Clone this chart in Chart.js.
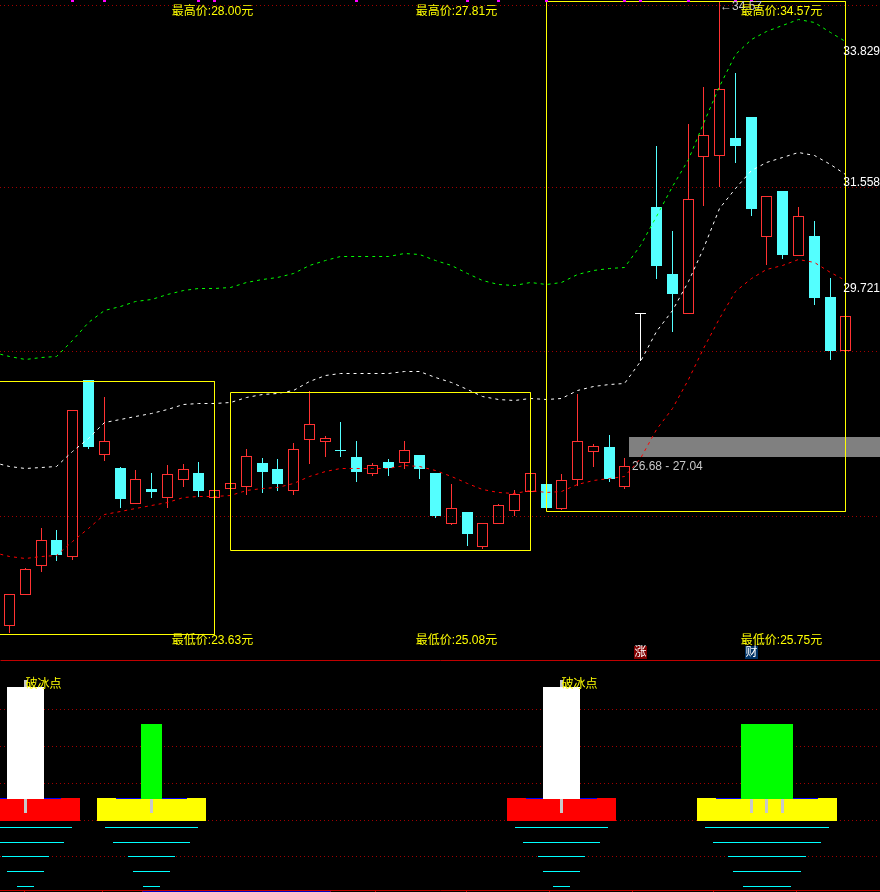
<!DOCTYPE html>
<html>
<head>
<meta charset="utf-8">
<title>K线</title>
<script src="https://cdn.jsdelivr.net/npm/chart.js@4/dist/chart.umd.js"></script>
<style>
html, body { margin: 0; padding: 0; background: #000; overflow: hidden; }
canvas { position: absolute; left: 0; display: block; }
#chart1 { top: 0; }
#chart2 { top: 660px; }
</style>
</head>
<body>
<canvas id="chart1" width="880" height="660"></canvas>
<canvas id="chart2" width="880" height="232"></canvas>
<script>
// candles, one entry per day
var opens = [23.74, 24.27, 24.78, 25.23, 24.93, 28.00, 26.70, 26.48, 25.85, 26.11, 25.96, 26.27, 26.39, 25.96, 26.11, 26.15, 26.57, 26.46, 26.08, 26.97, 26.93, 26.79, 26.67, 26.37, 26.58, 26.57, 26.70, 26.39, 25.51, 25.71, 25.11, 25.51, 25.73, 26.06, 26.20, 25.77, 26.27, 26.76, 26.84, 26.15, 29.15, 31.01, 29.85, 29.15, 31.88, 31.90, 32.21, 32.57, 30.49, 31.29, 30.16, 30.51, 29.45, 28.51];
var closes = [24.29, 24.72, 25.23, 24.97, 27.49, 26.84, 26.95, 25.94, 26.29, 26.06, 26.37, 26.46, 26.08, 26.10, 26.22, 26.69, 26.41, 26.20, 26.81, 27.24, 27.00, 26.77, 26.41, 26.53, 26.48, 26.79, 26.46, 25.65, 25.78, 25.33, 25.52, 25.84, 26.03, 26.39, 25.78, 26.27, 26.95, 26.86, 26.29, 26.51, 29.17, 29.99, 29.50, 31.15, 32.26, 33.06, 32.07, 30.98, 31.20, 30.18, 30.85, 29.43, 28.51, 29.12];
var highs = [24.29, 24.74, 25.44, 25.40, 27.49, 28.00, 27.71, 26.50, 26.44, 26.39, 26.53, 26.55, 26.58, 26.10, 26.22, 26.81, 26.65, 26.63, 26.91, 27.81, 27.03, 27.28, 26.95, 26.57, 26.63, 26.95, 26.70, 26.39, 26.20, 25.71, 25.52, 25.85, 26.10, 26.39, 26.20, 26.37, 27.76, 26.90, 27.05, 26.65, 29.17, 32.07, 30.59, 32.45, 33.09, 34.57, 33.34, 32.57, 31.20, 31.29, 31.01, 30.77, 29.78, 29.12];
var lows = [23.61, 24.27, 24.67, 24.86, 24.88, 26.81, 26.60, 25.78, 25.85, 25.96, 25.78, 26.15, 25.98, 25.95, 26.11, 26.01, 26.05, 26.08, 26.01, 26.55, 26.67, 26.67, 26.24, 26.34, 26.34, 26.46, 26.29, 25.61, 25.49, 25.13, 25.08, 25.51, 25.65, 26.06, 25.78, 25.75, 26.17, 26.50, 26.24, 26.11, 28.34, 29.76, 28.84, 29.15, 31.03, 31.36, 31.77, 30.85, 30.00, 30.11, 30.16, 29.31, 28.35, 28.51];
var flatBars = [40];

// channel lines, first value sits one day before the first candle
var upperLine = [28.49, 28.41, 28.37, 28.39, 28.42, 28.70, 29.00, 29.22, 29.28, 29.37, 29.41, 29.49, 29.56, 29.59, 29.60, 29.62, 29.70, 29.75, 29.78, 29.85, 30.00, 30.09, 30.15, 30.15, 30.15, 30.15, 30.20, 30.18, 30.08, 29.99, 29.85, 29.74, 29.67, 29.65, 29.70, 29.67, 29.70, 29.83, 29.91, 29.95, 29.96, 30.35, 30.84, 31.36, 31.84, 32.46, 33.11, 33.65, 33.92, 34.05, 34.16, 34.27, 34.21, 34.04, 33.88];
var midLine = [26.57, 26.50, 26.47, 26.48, 26.51, 26.76, 27.00, 27.27, 27.32, 27.38, 27.43, 27.50, 27.58, 27.60, 27.60, 27.62, 27.71, 27.75, 27.77, 27.83, 27.98, 28.08, 28.12, 28.12, 28.12, 28.12, 28.15, 28.15, 28.05, 27.97, 27.85, 27.72, 27.67, 27.65, 27.69, 27.67, 27.69, 27.82, 27.89, 27.93, 27.95, 28.32, 28.85, 29.22, 29.71, 30.29, 30.99, 31.34, 31.65, 31.78, 31.87, 31.96, 31.90, 31.74, 31.58];
var lowerLine = [25.02, 24.95, 24.91, 24.95, 24.96, 25.20, 25.43, 25.68, 25.73, 25.78, 25.82, 25.88, 25.96, 25.98, 25.99, 26.01, 26.09, 26.13, 26.14, 26.21, 26.33, 26.42, 26.47, 26.47, 26.47, 26.47, 26.52, 26.50, 26.43, 26.33, 26.21, 26.11, 26.06, 26.03, 26.09, 26.06, 26.07, 26.20, 26.27, 26.30, 26.33, 26.65, 27.14, 27.52, 28.01, 28.56, 29.08, 29.54, 29.77, 29.92, 30.00, 30.10, 30.05, 29.88, 29.74];

var gridPrices = [34.52, 31.36, 28.51, 25.65];
var sideLabels = ['33.829', '31.558', '29.721'];
var sidePrices = [33.70, 31.43, 29.59];
var boxStarts = [-1, 14, 34];
var boxEnds = [13, 33, 53];
var boxHighs = [27.98, 27.79, 34.58];
var boxLows = [23.59, 25.05, 25.73];
var boxHighText = ['最高价:28.00元', '最高价:27.81元', '最高价:34.57元'];
var boxLowText = ['最低价:23.63元', '最低价:25.08元', '最低价:25.75元'];
var boxLabelDays = [12.86, 28.32, 48.89];
var zoneTop = 27.02;
var zoneBottom = 26.67;
var zoneStart = 39.26;
var zoneText = '26.68 - 27.04';
var markDays = [4, 6, 12, 13, 22, 29, 31, 34, 39, 40, 43, 46, 47];

// lower panel, in panel units
var signalDays = [1, 9, 35, 47, 48, 49];
var signalHeights = [203, 166, 203, 166, 166, 166];
var signalColors = ['#ffffff', '#00ff00', '#ffffff', '#00ff00', '#00ff00', '#00ff00'];
var baseColors = ['#ff0000', '#ffff00', '#ff0000', '#ffff00', '#ffff00', '#ffff00'];
var stickTops = [210, 166, 210, 166, 166, 166];
var panelGrid = [181, 144, 107, 70, 34];
var rippleLevels = [63, 48, 34, 19, 4];
var rippleWidths = [93, 77, 47, 37, 17];
var panelTicks = [0.92, 5.92, 8.4, 20.37, 23.16, 28.93, 34.19, 39.45, 44.64, 49.9];
var signalText = '破冰点';

var RED = '#ff3232';
var CYAN = '#54ffff';
var FONT = '12px "Liberation Sans", "Noto Sans CJK SC", sans-serif';
var xMin = -0.605;
var xMax = 55.162;

// keeps the bars on whole pixels like the original terminal drawing
class SnapScale extends Chart.LinearScale {
    static id = 'snap';
    getPixelForValue(v, i) {
        var p = super.getPixelForValue(v, i);
        return this.options.half ? Math.floor(p) + 0.5 : Math.round(p);
    }
}
Chart.register(SnapScale);

function candleColor(i) {
    if (flatBars.indexOf(i) >= 0) return '#ffffff';
    return closes[i] > opens[i] ? RED : CYAN;
}
var days = opens.map(function (v, i) { return i; });
var candleColors = days.map(candleColor);

function lineSet(values, color) {
    return {
        type: 'line',
        data: values.map(function (v, i) { return { x: i - 1, y: v }; }),
        borderColor: color,
        borderWidth: 1,
        borderDash: [3, 4],
        pointRadius: 0,
        yAxisID: 'yLine',
        order: 3
    };
}

function boxSet(k) {
    return {
        type: 'line',
        data: [
            { x: boxStarts[k], y: boxHighs[k] },
            { x: boxEnds[k], y: boxHighs[k] },
            { x: boxEnds[k], y: boxLows[k] },
            { x: boxStarts[k], y: boxLows[k] },
            { x: boxStarts[k], y: boxHighs[k] }
        ],
        borderColor: '#ffff00',
        borderWidth: 1,
        pointRadius: 0,
        yAxisID: 'yLine',
        order: 2
    };
}

function barSet(data, color, width, order, border) {
    return {
        type: 'bar',
        data: data,
        backgroundColor: color,
        borderColor: border || color,
        borderWidth: border ? 1 : 0,
        borderSkipped: false,
        inflateAmount: 0,
        barThickness: width,
        grouped: false,
        order: order
    };
}

var upperLabels = {
    id: 'upperLabels',
    beforeDatasetsDraw: function (chart) {
        var ctx = chart.ctx, x = chart.scales.x, y = chart.scales.y;
        var top = y.getPixelForValue(zoneTop);
        var left = Math.floor(x.getPixelForValue(zoneStart));
        ctx.fillStyle = '#808080';
        ctx.fillRect(left, top, chart.width - left, y.getPixelForValue(zoneBottom) - top);
    },
    afterDatasetsDraw: function (chart) {
        var ctx = chart.ctx, x = chart.scales.x, y = chart.scales.y;
        ctx.save();
        ctx.font = FONT;
        ctx.textBaseline = 'middle';
        ctx.textAlign = 'left';
        ctx.fillStyle = '#c8c8c8';
        ctx.fillText('←34.57', 720, 7);
        ctx.fillText(zoneText, 632, 467);
        ctx.fillStyle = '#ffffff';
        ctx.textAlign = 'right';
        sideLabels.forEach(function (t, i) {
            ctx.fillText(t, 880, y.getPixelForValue(sidePrices[i]));
        });
        ctx.fillStyle = '#ffff00';
        ctx.textAlign = 'center';
        boxLabelDays.forEach(function (d, i) {
            ctx.fillText(boxHighText[i], x.getPixelForValue(d), 12);
            ctx.fillText(boxLowText[i], x.getPixelForValue(d), 641);
        });
        // news badges under the candles
        [[40, '#800000', '涨'], [47, '#003366', '财']].forEach(function (b) {
            var cx = Math.floor(x.getPixelForValue(b[0]));
            ctx.fillStyle = b[1];
            ctx.fillRect(cx - 6, 646, 13, 13);
            ctx.fillStyle = '#ffffff';
            ctx.fillText(b[2], cx + 0.5, 653);
        });
        ctx.restore();
    }
};

var chart1 = new Chart(document.getElementById('chart1').getContext('2d'), {
    type: 'bar',
    data: {
        datasets: [
            barSet(markDays.map(function (d) { return { x: d, y: [34.57, 34.604] }; }), '#ff00ff', 3, 1),
            boxSet(0), boxSet(1), boxSet(2),
            lineSet(upperLine, '#00ff00'),
            lineSet(midLine, '#ffffff'),
            lineSet(lowerLine, '#ff0000'),
            barSet(days.map(function (i) { return { x: i, y: [Math.max(opens[i], closes[i]), highs[i]] }; }), candleColors, 1, 4),
            barSet(days.map(function (i) { return { x: i, y: [lows[i], Math.min(opens[i], closes[i])] }; }), candleColors, 1, 4),
            barSet(days.map(function (i) { return { x: i, y: [opens[i], closes[i]] }; }),
                days.map(function (i) { return candleColors[i] === RED ? 'rgba(0,0,0,0)' : candleColors[i]; }), 11, 5, candleColors)
        ]
    },
    options: {
        responsive: false,
        animation: false,
        layout: { padding: 0 },
        plugins: { legend: { display: false }, tooltip: { enabled: false } },
        scales: {
            x: { type: 'snap', half: true, display: false, offset: false, min: xMin, max: xMax },
            y: {
                type: 'snap',
                min: 23.146,
                max: 34.604,
                afterBuildTicks: function (s) { s.ticks = gridPrices.map(function (v) { return { value: v }; }); },
                afterFit: function (s) { s.width = 0; },
                ticks: { display: false, autoSkip: false },
                border: { display: false, dash: [1, 3] },
                grid: { color: '#a00000', drawTicks: false }
            },
            yLine: { type: 'snap', half: true, display: false, min: 23.146, max: 34.604 }
        }
    },
    plugins: [upperLabels]
});

var signalBar = function (list) {
    return list.map(function (i) { return { x: signalDays[i], y: [91, signalHeights[i]] }; });
};
var whiteIdx = [0, 2];
var greenIdx = [1, 3, 4, 5];
var allIdx = [0, 1, 2, 3, 4, 5];

var panelSets = [
    barSet(allIdx.map(function (i) { return { x: signalDays[i], y: [69, 92] }; }), baseColors, 109, 9),
    barSet(allIdx.map(function (i) { return { x: signalDays[i], y: [91, 92] }; }), '#0000ff', 71, 8),
    barSet(allIdx.map(function (i) { return { x: signalDays[i], y: [77, stickTops[i]] }; }), '#c8c8c8', 3, 7),
    barSet(signalBar(whiteIdx), whiteIdx.map(function (i) { return signalColors[i]; }), 37, 6),
    barSet(signalBar(greenIdx), greenIdx.map(function (i) { return signalColors[i]; }), 21, 6),
    {
        type: 'line',
        data: [{ x: xMin, y: 229.5 }, { x: xMax, y: 229.5 }],
        borderColor: '#c00000',
        borderWidth: 1,
        pointRadius: 0,
        yAxisID: 'yLine',
        order: 1
    }
];
rippleLevels.forEach(function (level, k) {
    panelSets.push(barSet(allIdx.map(function (i) { return { x: signalDays[i], y: [level - 1, level] }; }), '#00ffff', rippleWidths[k], 5));
});

var panelLabels = {
    id: 'panelLabels',
    afterDatasetsDraw: function (chart) {
        var ctx = chart.ctx, x = chart.scales.x;
        ctx.save();
        ctx.font = FONT;
        ctx.textBaseline = 'middle';
        ctx.fillStyle = '#ffff00';
        whiteIdx.forEach(function (i) {
            ctx.fillText(signalText, x.getPixelForValue(signalDays[i]), 25);
        });
        ctx.fillStyle = '#0000c0';
        var a = x.getPixelForValue(8.4);
        ctx.fillRect(a, 231, x.getPixelForValue(20.37) - a, 1);
        ctx.restore();
    }
};

var chart2 = new Chart(document.getElementById('chart2').getContext('2d'), {
    type: 'bar',
    data: { datasets: panelSets },
    options: {
        responsive: false,
        animation: false,
        layout: { padding: 0 },
        plugins: { legend: { display: false }, tooltip: { enabled: false } },
        scales: {
            x: {
                type: 'snap',
                half: true,
                offset: false,
                min: xMin,
                max: xMax,
                afterBuildTicks: function (s) { s.ticks = panelTicks.map(function (v) { return { value: v }; }); },
                afterFit: function (s) { s.height = 2; },
                ticks: { display: false, autoSkip: false },
                border: { display: true, color: '#c00000', width: 1 },
                grid: { drawOnChartArea: false, color: '#c00000', tickLength: 2, offset: false }
            },
            y: {
                type: 'snap',
                min: 0,
                max: 230,
                afterBuildTicks: function (s) { s.ticks = panelGrid.map(function (v) { return { value: v }; }); },
                afterFit: function (s) { s.width = 0; },
                ticks: { display: false, autoSkip: false },
                border: { display: false, dash: [1, 3] },
                grid: { color: '#a00000', drawTicks: false }
            },
            yLine: { type: 'snap', half: true, display: false, min: 0, max: 230 }
        }
    },
    plugins: [panelLabels]
});
</script>
</body>
</html>
